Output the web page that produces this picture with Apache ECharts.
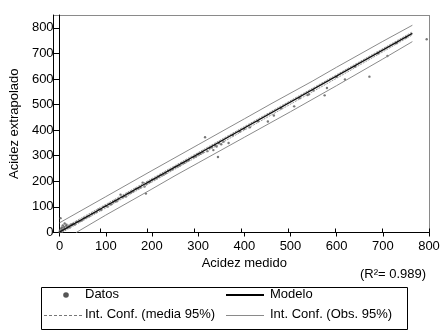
<!DOCTYPE html>
<html><head><meta charset="utf-8">
<script src="https://cdn.jsdelivr.net/npm/echarts@6/dist/echarts.min.js"></script>
<style>html,body{margin:0;padding:0;background:#fff}#c{width:444px;height:336px}</style>
</head><body><div id="c"></div>
<script>
// ---- data ----
const datos = [[0,2],[1,8],[2,56],[3,15],[4,5],[5,20],[6,12],[7,28],[8,10],[9,18],[10,22],[11,35],[12,14],[14,25],[15,30],[16,18],[18,22],[20,26],[22,20],[24,30],[26,28],[28,32],[30,34],[33,31],[36,40],[40,42],[44,45],[48,47],[52,55],[56,57],[60,62],[65,64],[70,72],[75,76],[80,80],[85,90],[90,88],[95,100],[100,104],[104,101],[108,112],[112,110],[116,118],[120,124],[124,122],[128,131],[132,148],[136,138],[140,142],[144,141],[148,152],[152,154],[156,158],[160,162],[165,170],[170,172],[175,176],[180,195],[184,180],[187,152],[188,190],[192,196],[196,198],[200,205],[205,207],[210,212],[215,218],[220,224],[225,226],[230,232],[235,240],[240,243],[245,248],[250,255],[255,258],[260,262],[265,270],[270,272],[275,278],[280,283],[290,294],[295,297],[300,305],[305,308],[310,313],[315,372],[320,318],[325,330],[330,333],[333,322],[337,340],[340,336],[343,295],[345,350],[350,345],[355,355],[366,350],[375,380],[390,395],[400,405],[412,411],[430,435],[451,434],[464,457],[480,485],[508,493],[520,525],[537,537],[540,540],[550,555],[574,536],[579,565],[600,608],[618,598],[640,648],[671,609],[690,700],[710,690],[730,740],[750,762],[795,755]];
const modeloX = [0, 764];
const modeloY = [2, 778];
const mediaX = [0, 200, 400, 600, 764];
const mediaSupY = [9, 211, 414, 617, 784];
const mediaInfY = [-5, 197, 400, 603, 772];
const obsSupX = [0, 100, 200, 300, 400, 460, 547, 600, 700, 764];
const obsSupY = [38, 140, 242, 343, 444, 505, 591, 646, 747, 810];
const obsInfX = [36, 100, 200, 250, 300, 400, 500, 600, 700, 764];
const obsInfY = [0, 68, 170, 222, 272, 372, 472, 574, 678, 746];
const xTicks = [0, 100, 200, 300, 400, 500, 600, 700, 800];
const yTicks = [0, 100, 200, 300, 400, 500, 600, 700, 800];

const zip = (xs, ys) => xs.map((x, i) => [x, ys[i]]);
const font = 'Liberation Sans, Arial, sans-serif';
const chart = echarts.init(document.getElementById('c'), null, {renderer: 'canvas'});
const grid = {left: 53, right: 15, top: 15, bottom: 103.5, containLabel: false};
const axBase = (extra) => Object.assign({
  type: 'value', min: 0, interval: 100,
  splitLine: {show: false},
  axisLine: {show: true, onZero: false, lineStyle: {color: '#000', width: 1}},
}, extra);

chart.setOption({
  animation: false,
  backgroundColor: '#fff',
  grid: [grid, grid],
  xAxis: [
    axBase({gridIndex: 0, max: 800, name: 'Acidez medido', nameLocation: 'middle', nameGap: 23,
      nameTextStyle: {fontFamily: font, fontSize: 13, color: '#000'},
      axisTick: {show: true, length: 4, inside: false, lineStyle: {color: '#000'}},
      axisLabel: {fontFamily: font, fontSize: 13, color: '#000', margin: 7,
        formatter: v => xTicks.includes(v) ? String(v) : ''}}),
    axBase({gridIndex: 1, max: 800, axisTick: {show: true, length: 4, inside: true, lineStyle: {color: '#000'}},
      axisLabel: {show: false}})
  ],
  yAxis: [
    axBase({gridIndex: 0, max: 850, name: 'Acidez extrapolado', nameLocation: 'middle', nameGap: 33,
      nameTextStyle: {fontFamily: font, fontSize: 13, color: '#000'},
      axisTick: {show: true, length: 4, inside: false, lineStyle: {color: '#000'},
        customValues: yTicks},
      axisLabel: {fontFamily: font, fontSize: 13, color: '#000', margin: 6, customValues: yTicks}}),
    axBase({gridIndex: 1, max: 850, axisTick: {show: true, length: 4, inside: true, lineStyle: {color: '#000'}, customValues: yTicks},
      axisLabel: {show: false}})
  ],
  series: [
    {type: 'line', data: zip(obsSupX, obsSupY), symbol: 'none', lineStyle: {color: '#8a8a8a', width: 1}, clip: true},
    {type: 'line', data: zip(obsInfX, obsInfY), symbol: 'none', lineStyle: {color: '#8a8a8a', width: 1}, clip: true},
    {type: 'line', data: zip(mediaX, mediaSupY), symbol: 'none', lineStyle: {color: '#999', width: 1, type: [2, 1]}, clip: true},
    {type: 'line', data: zip(mediaX, mediaInfY), symbol: 'none', lineStyle: {color: '#999', width: 1, type: [2, 1]}, clip: true},
    {type: 'line', data: zip(modeloX, modeloY), symbol: 'none', lineStyle: {color: '#111', width: 1.4}, clip: true},
    {type: 'scatter', data: datos, symbol: 'circle', symbolSize: 2.4, itemStyle: {color: '#555'}, clip: true},
    {type: 'scatter', xAxisIndex: 1, yAxisIndex: 1, data: [], silent: true}
  ],
  graphic: [
    // top and right frame
    {type: 'line', shape: {x1: 53, y1: 15.5, x2: 429.5, y2: 15.5}, style: {stroke: '#8a8a8a', lineWidth: 1}},
    {type: 'line', shape: {x1: 429.5, y1: 15, x2: 429.5, y2: 232.5}, style: {stroke: '#8a8a8a', lineWidth: 1}},
    {type: 'text', left: 360, top: 268, style: {text: '(R²= 0.989)', font: '13px ' + font, fill: '#000'}},
    // legend
    {type: 'rect', shape: {x: 41.5, y: 287.5, width: 366, height: 42}, style: {fill: '#fff', stroke: '#000', lineWidth: 1}},
    {type: 'circle', shape: {cx: 66, cy: 295, r: 2.8}, style: {fill: '#555'}},
    {type: 'text', left: 85, top: 287.5, style: {text: 'Datos', font: '13px ' + font, fill: '#000'}},
    {type: 'line', shape: {x1: 226, y1: 295, x2: 264, y2: 295}, style: {stroke: '#000', lineWidth: 2}},
    {type: 'text', left: 270, top: 287.5, style: {text: 'Modelo', font: '13px ' + font, fill: '#000'}},
    {type: 'line', shape: {x1: 44, y1: 315.5, x2: 84, y2: 315.5}, style: {stroke: '#777', lineWidth: 1, lineDash: [3, 2]}},
    {type: 'text', left: 85, top: 308, style: {text: 'Int. Conf. (media 95%)', font: '13px ' + font, fill: '#000'}},
    {type: 'line', shape: {x1: 226, y1: 315.5, x2: 264, y2: 315.5}, style: {stroke: '#8a8a8a', lineWidth: 1}},
    {type: 'text', left: 270, top: 308, style: {text: 'Int. Conf. (Obs. 95%)', font: '13px ' + font, fill: '#000'}}
  ]
});
</script>
</body></html>
